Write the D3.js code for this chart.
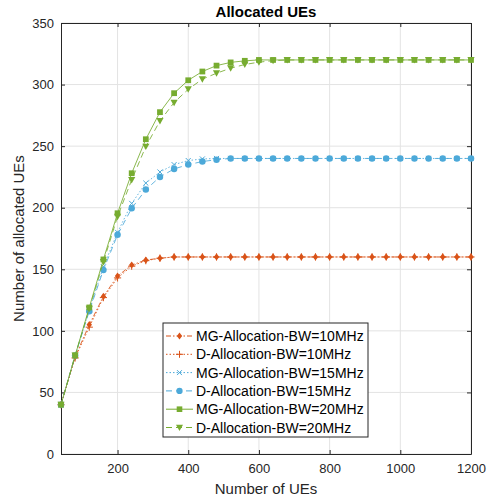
<!DOCTYPE html>
<html>
<head>
<meta charset="utf-8">
<script src="https://cdn.jsdelivr.net/npm/d3@7"></script>
<style>
  body { margin: 0; background: #fff; }
  text { font-family: "Liberation Sans", Arial, sans-serif; }
</style>
</head>
<body>
<div id="chart"></div>
<script>
// x values: number of UEs
var ues = [40, 80, 120, 160, 200, 240, 280, 320, 360, 400, 440, 480, 520, 560, 600,
           640, 680, 720, 760, 800, 840, 880, 920, 960, 1000, 1040, 1080, 1120, 1160, 1200];

var mg10 = [40, 79, 105, 128, 144.5, 153.5, 157.5, 159, 160, 160, 160, 160, 160, 160, 160,
            160, 160, 160, 160, 160, 160, 160, 160, 160, 160, 160, 160, 160, 160, 160];
var d10  = [40, 78, 103, 127, 143, 152.5, 157, 159, 160, 160, 160, 160, 160, 160, 160,
            160, 160, 160, 160, 160, 160, 160, 160, 160, 160, 160, 160, 160, 160, 160];
var mg15 = [40, 80, 117, 152, 180, 203.5, 220, 229, 235, 238.3, 239.6, 240, 240, 240, 240,
            240, 240, 240, 240, 240, 240, 240, 240, 240, 240, 240, 240, 240, 240, 240];
var d15  = [40, 80, 116, 149.5, 178, 199.5, 214.7, 225, 231.5, 235, 237.5, 239, 240, 240, 240,
            240, 240, 240, 240, 240, 240, 240, 240, 240, 240, 240, 240, 240, 240, 240];
var mg20 = [40, 80, 119, 158, 195.5, 228, 255.6, 277.6, 293, 303.5, 310.6, 315.4, 318, 319.3, 320,
            320, 320, 320, 320, 320, 320, 320, 320, 320, 320, 320, 320, 320, 320, 320];
var d20  = [40, 80, 118, 156, 192.8, 222.6, 249.7, 270.5, 285.4, 296.2, 304.4, 309.2, 313.3, 316.3, 318.2,
            319.4, 320, 320, 320, 320, 320, 320, 320, 320, 320, 320, 320, 320, 320, 320];

var seriesNames = ["MG-Allocation-BW=10MHz", "D-Allocation-BW=10MHz", "MG-Allocation-BW=15MHz",
                   "D-Allocation-BW=15MHz", "MG-Allocation-BW=20MHz", "D-Allocation-BW=20MHz"];
var xTicks = [200, 400, 600, 800, 1000, 1200];
var yTicks = [0, 50, 100, 150, 200, 250, 300, 350];

var orange = "#D95319", blue = "#4CA9D9", green = "#77AC30";
var series = [
  {name: seriesNames[0], values: mg10, color: orange, dash: "5,2,1.5,2", marker: "diamond"},
  {name: seriesNames[1], values: d10,  color: orange, dash: "1.5,2",     marker: "plus"},
  {name: seriesNames[2], values: mg15, color: blue,   dash: "1.5,2",     marker: "cross"},
  {name: seriesNames[3], values: d15,  color: blue,   dash: "6,4",       marker: "circle"},
  {name: seriesNames[4], values: mg20, color: green,  dash: null,        marker: "square"},
  {name: seriesNames[5], values: d20,  color: green,  dash: "6,4",       marker: "triangle"}
];

var W = 493, H = 500;
var margin = {top: 23, right: 22, bottom: 46, left: 61};
var width = W - margin.left - margin.right,
    height = H - margin.top - margin.bottom;

var svg = d3.select("#chart").append("svg")
    .attr("width", W)
    .attr("height", H);

var g = svg.append("g")
    .attr("transform", "translate(" + margin.left + "," + margin.top + ")");

var x = d3.scaleLinear().domain([40, 1200]).range([0, width]);
var y = d3.scaleLinear().domain([0, 350]).range([height, 0]);

// grid
g.selectAll(".gx").data(xTicks).enter().append("line")
    .attr("x1", d => x(d)).attr("x2", d => x(d))
    .attr("y1", 0).attr("y2", height)
    .attr("stroke", "#e3e3e3").attr("stroke-width", 1);
g.selectAll(".gy").data(yTicks).enter().append("line")
    .attr("x1", 0).attr("x2", width)
    .attr("y1", d => y(d)).attr("y2", d => y(d))
    .attr("stroke", "#e3e3e3").attr("stroke-width", 1);

// axes, ticks inward
var axisColor = "#262626";
var fmt = d3.format("d");
var xAxis = g.append("g").attr("transform", "translate(0," + height + ")")
    .call(d3.axisBottom(x).tickValues(xTicks).tickFormat(fmt).tickSizeInner(-4).tickSizeOuter(0).tickPadding(10));
var xTop = g.append("g")
    .call(d3.axisTop(x).tickValues(xTicks).tickSizeInner(-4).tickSizeOuter(0).tickFormat(""));
var yAxis = g.append("g")
    .call(d3.axisLeft(y).tickValues(yTicks).tickFormat(fmt).tickSizeInner(-4).tickSizeOuter(0).tickPadding(7));
var yRight = g.append("g").attr("transform", "translate(" + width + ",0)")
    .call(d3.axisRight(y).tickValues(yTicks).tickSizeInner(-4).tickSizeOuter(0).tickFormat(""));

[xAxis, xTop, yAxis, yRight].forEach(function(a) {
  a.select(".domain").attr("stroke", axisColor).attr("stroke-width", 1);
  a.selectAll(".tick line").attr("stroke", axisColor);
  a.selectAll(".tick text").attr("fill", axisColor)
    .style("font-size", "13px").style("font-family", "Liberation Sans, Arial, sans-serif");
});

// lines
var line = d3.line().x((d, i) => x(ues[i])).y(d => y(d));

function drawMarker(sel, type, color, size) {
  var s = size;
  if (type === "diamond") {
    sel.append("path").attr("d", "M0," + (-s) + "L" + (s * 0.75) + ",0L0," + s + "L" + (-s * 0.75) + ",0Z")
      .attr("fill", color);
  } else if (type === "plus") {
    sel.append("path").attr("d", "M" + (-s) + ",0H" + s + "M0," + (-s) + "V" + s)
      .attr("stroke", color).attr("stroke-width", 1).attr("fill", "none");
  } else if (type === "cross") {
    var c = s * 0.7;
    sel.append("path").attr("d", "M" + (-c) + "," + (-c) + "L" + c + "," + c + "M" + (-c) + "," + c + "L" + c + "," + (-c))
      .attr("stroke", color).attr("stroke-width", 1).attr("fill", "none");
  } else if (type === "circle") {
    sel.append("circle").attr("r", s * 0.9).attr("fill", color);
  } else if (type === "square") {
    sel.append("rect").attr("x", -s * 0.8).attr("y", -s * 0.8)
      .attr("width", s * 1.6).attr("height", s * 1.6).attr("fill", color);
  } else if (type === "triangle") {
    sel.append("path").attr("d", "M" + (-s) + "," + (-s * 0.8) + "L" + s + "," + (-s * 0.8) + "L0," + s + "Z")
      .attr("fill", color);
  }
}

series.forEach(function(s) {
  g.append("path")
    .datum(s.values)
    .attr("d", line)
    .attr("fill", "none")
    .attr("stroke", s.color)
    .attr("stroke-opacity", 0.85)
    .attr("stroke-width", 1)
    .attr("stroke-dasharray", s.dash);
  g.selectAll(null).data(s.values).enter().append("g")
    .attr("transform", (d, i) => "translate(" + x(ues[i]) + "," + y(d) + ")")
    .each(function() { drawMarker(d3.select(this), s.marker, s.color, 3.6); });
});

// legend
var lg = svg.append("g").attr("transform", "translate(163,323)");
lg.append("rect").attr("width", 205).attr("height", 114)
  .attr("fill", "#fff").attr("stroke", axisColor).attr("stroke-width", 1);
series.forEach(function(s, i) {
  var row = lg.append("g").attr("transform", "translate(0," + (13 + i * 18.3) + ")");
  row.append("line").attr("x1", 3).attr("x2", 30)
    .attr("stroke", s.color).attr("stroke-width", 1).attr("stroke-dasharray", s.dash);
  var m = row.append("g").attr("transform", "translate(16.5,0)");
  drawMarker(m, s.marker, s.color, 3.5);
  row.append("text").attr("x", 33).attr("y", 5)
    .attr("fill", "#000").style("font-size", "14px").text(s.name);
});

// labels
svg.append("text").attr("x", margin.left + width / 2).attr("y", 17)
  .attr("text-anchor", "middle").style("font-size", "15px").style("font-weight", "bold")
  .attr("fill", "#000").text("Allocated UEs");
svg.append("text").attr("x", margin.left + width / 2).attr("y", 494)
  .attr("text-anchor", "middle").style("font-size", "15px")
  .attr("fill", axisColor).text("Number of UEs");
svg.append("text").attr("transform", "translate(24," + (margin.top + height / 2) + ") rotate(-90)")
  .attr("text-anchor", "middle").style("font-size", "15px")
  .attr("fill", axisColor).text("Number of allocated UEs");
</script>
</body>
</html>
